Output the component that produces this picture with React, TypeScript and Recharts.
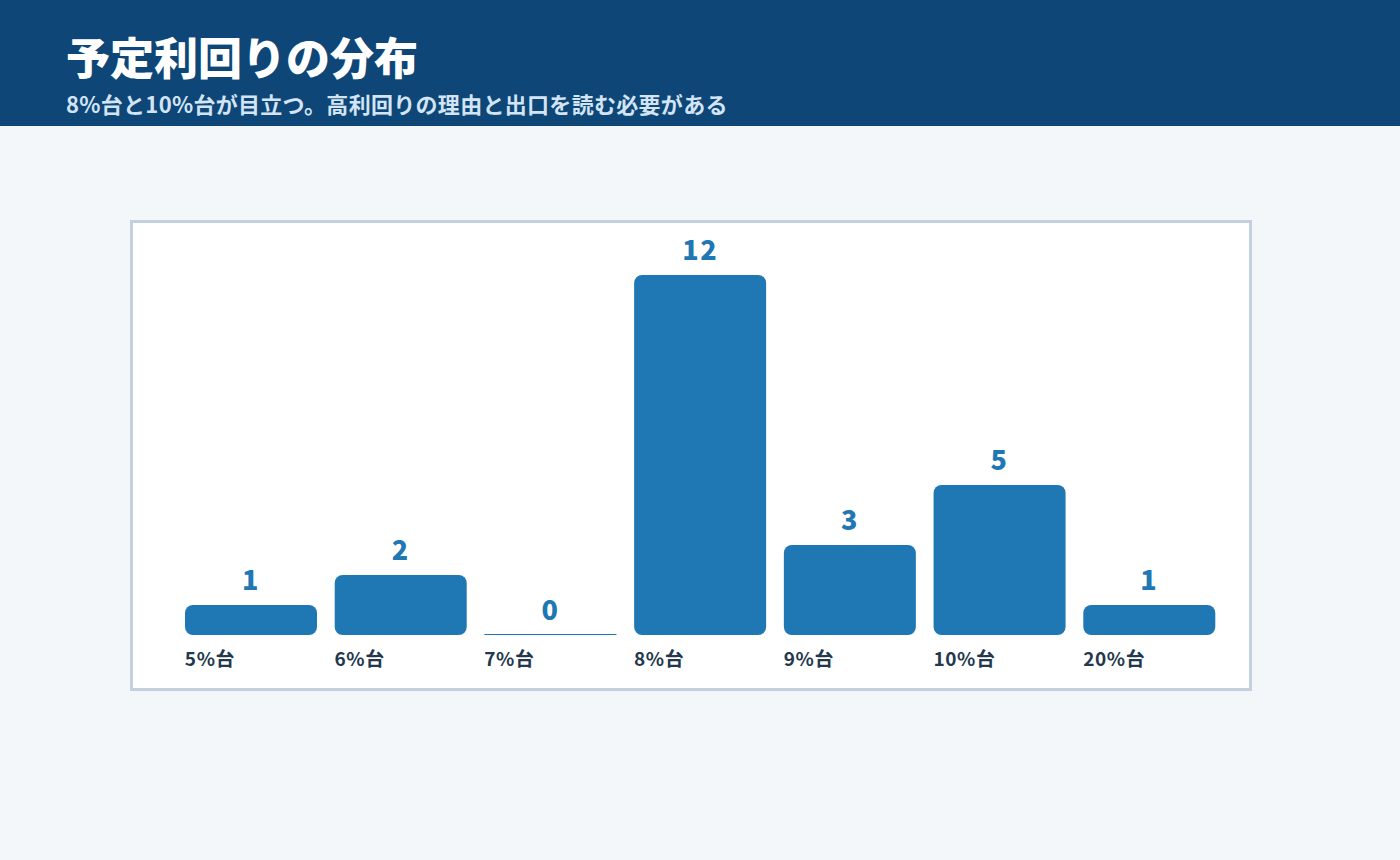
import { BarChart, Bar, XAxis, YAxis, LabelList } from 'recharts';

const categories = ['5%台', '6%台', '7%台', '8%台', '9%台', '10%台', '20%台'];
const counts = [1, 2, 0, 12, 3, 5, 1];

const data = categories.map((name, i) => ({ name, value: counts[i] }));

const BAR_COLOR = '#1f77b4';
const BAR_SIZE = 132;
const JP = '"Noto Sans CJK JP", "Noto Sans", sans-serif';

// zero-height bars still show as a thin line
function BarShape(props: any) {
  const { x, y, width, height } = props;
  if (!height || height < 1) {
    return <rect x={x} y={y - 1} width={width} height={1} fill={BAR_COLOR} />;
  }
  const r = Math.min(8, height / 2);
  return <rect x={x} y={y} width={width} height={height} rx={r} ry={r} fill={BAR_COLOR} />;
}

function CategoryTick(props: any) {
  const { x, y, payload } = props;
  return (
    <text
      x={x - BAR_SIZE / 2}
      y={y}
      dy={23}
      textAnchor="start"
      fill="#23384d"
      fontSize={19}
      fontWeight={700}
      fontFamily={JP}
      letterSpacing={0.6}
    >
      {payload.value}
    </text>
  );
}

export default function App() {
  return (
    <div
      style={{
        position: 'absolute',
        left: 0,
        top: 0,
        width: 1400,
        height: 860,
        background: '#f3f7fa',
        fontFamily: JP,
        overflow: 'hidden',
      }}
    >
      <div style={{ position: 'absolute', left: 0, top: 0, width: 1400, height: 126, background: '#0d4677' }}>
        <div
          style={{
            position: 'absolute',
            left: 66,
            top: 32,
            fontSize: 44,
            lineHeight: '48px',
            fontWeight: 900,
            color: '#ffffff',
          }}
        >
          予定利回りの分布
        </div>
        <div
          style={{
            position: 'absolute',
            left: 66,
            top: 90,
            fontSize: 22,
            lineHeight: '27px',
            fontWeight: 700,
            letterSpacing: 0.3,
            color: '#d3e4f4',
          }}
        >
          8%台と10%台が目立つ。高利回りの理由と出口を読む必要がある
        </div>
      </div>

      <div
        style={{
          position: 'absolute',
          left: 130,
          top: 220,
          width: 1116,
          height: 465,
          border: '3px solid #c4d0dd',
          background: '#ffffff',
        }}
      >
        <BarChart
          width={1116}
          height={465}
          data={data}
          margin={{ top: 52, right: 25, bottom: 13, left: 43 }}
          barSize={BAR_SIZE}
        >
          <XAxis
            dataKey="name"
            axisLine={false}
            tickLine={false}
            height={40}
            interval={0}
            tick={<CategoryTick />}
          />
          <YAxis hide domain={[0, 12]} />
          <Bar dataKey="value" shape={<BarShape />} isAnimationActive={false}>
            <LabelList
              dataKey="value"
              position="top"
              offset={15}
              fill={BAR_COLOR}
              fontSize={27}
              fontWeight={900}
              fontFamily={JP}
              letterSpacing={1.5}
            />
          </Bar>
        </BarChart>
      </div>
    </div>
  );
}
